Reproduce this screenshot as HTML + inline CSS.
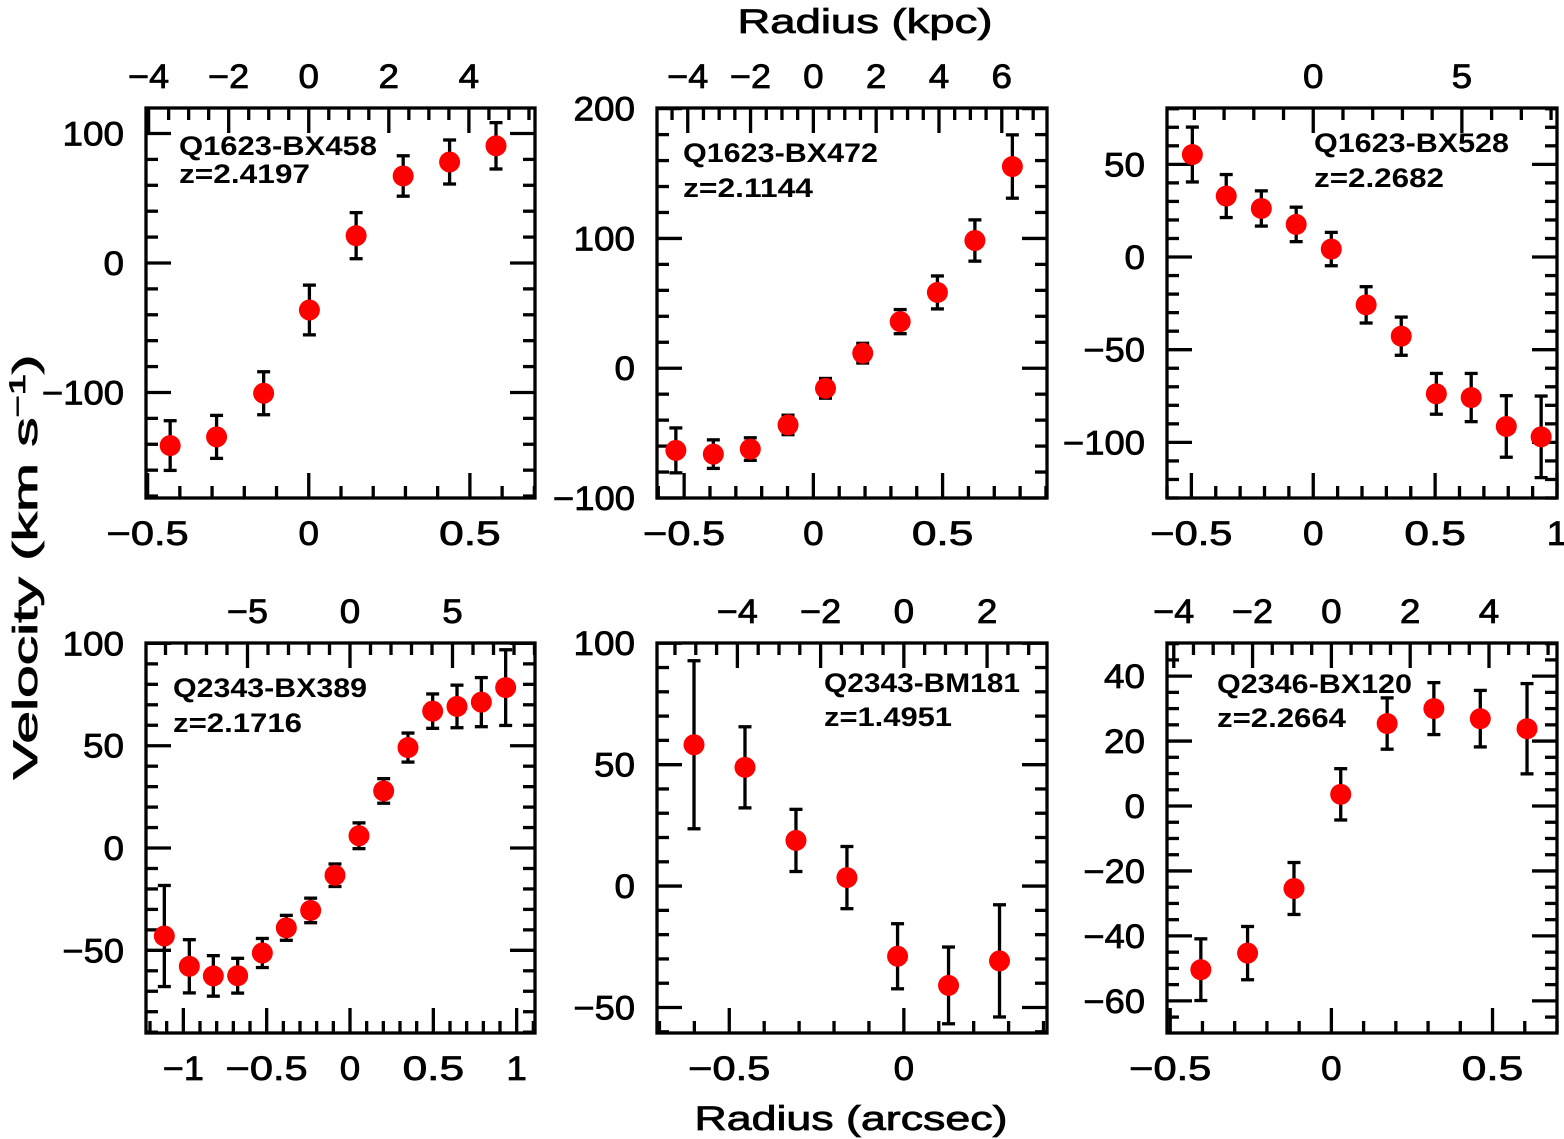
<!DOCTYPE html>
<html><head><meta charset="utf-8"><style>
html,body{margin:0;padding:0;background:#fff;}
svg{display:block;font-family:"Liberation Sans",sans-serif;}
</style></head><body>
<svg id="fig" width="1564" height="1139" viewBox="0 0 1564 1139" xmlns="http://www.w3.org/2000/svg"></svg>
<script>
// ---- data (radius in arcsec, velocity km/s, error km/s) ----
const bx458Radius=[-0.43,-0.286,-0.14,0.002,0.147,0.293,0.437,0.581];
const bx458Vel=[-141,-134.3,-100.6,-36.3,21.1,67.2,78,90.5];
const bx458Err=[19.2,16.6,16.6,19.2,17.8,15.6,17,17.9];
const bx472Radius=[-0.532,-0.387,-0.244,-0.098,0.047,0.191,0.336,0.480,0.625,0.770];
const bx472Vel=[-63.3,-66.2,-62.3,-43.7,-15.5,11.6,35.9,58.4,98.4,155.4];
const bx472Err=[17.3,11,8.7,7.5,7.6,7.6,9.3,12.7,15.9,24.4];
const bx528Radius=[-0.496,-0.357,-0.213,-0.070,0.074,0.217,0.361,0.505,0.648,0.792,0.935];
const bx528Vel=[55.3,32.9,26.2,17.6,4.3,-25.8,-42.7,-73.8,-75.8,-91.4,-97];
const bx528Err=[14.8,11.6,9.5,9.3,9,9.8,10.3,11,13,16.6,22];
const bx389Radius=[-1.114,-0.964,-0.82,-0.674,-0.526,-0.382,-0.236,-0.09,0.054,0.202,0.348,0.496,0.642,0.788,0.934];
const bx389Vel=[-43,-57.8,-62.5,-62.4,-51.3,-39,-30.5,-13.3,6,27.9,49.1,66.9,69.2,71.3,78.4];
const bx389Err=[24.7,13,9.9,8.5,7.1,6.1,6,5.5,6.3,6,7.1,8.4,10.4,12,18.5];
const bm181Radius=[-0.601,-0.455,-0.309,-0.163,-0.018,0.128,0.274];
const bm181Vel=[58.2,48.9,18.8,3.5,-28.9,-40.9,-30.8];
const bm181Err=[34.6,16.7,12.8,12.8,13.4,15.8,23.1];
const bx120Radius=[-0.405,-0.260,-0.116,0.029,0.173,0.318,0.462,0.607];
const bx120Vel=[-50.4,-45.3,-25.4,3.6,25.4,30,26.9,23.8];
const bx120Err=[9.5,8.2,8,7.9,7.9,8,8.7,13.9];

const NS="http://www.w3.org/2000/svg";
const svg=document.getElementById('fig');
function mk(tag,attrs,parent){const e=document.createElementNS(NS,tag);for(const k in attrs)e.setAttribute(k,attrs[k]);(parent||svg).appendChild(e);return e;}
function fmt(v){const a=Math.abs(v);let s=String(+a.toFixed(2));return (v<-1e-9?'\u2212':'')+s;}

const panels=[
 {id:'bx458',name:'Q1623-BX458',z:'z=2.4197',r:bx458Radius,v:bx458Vel,e:bx458Err,L:146,R:535,T:108,B:498,xlim:[-0.505,0.702],ylim:[-181.5,119.7],kpc:8.05,yMaj:100,yMin:20,kMaj:2,kMin:0.5,tx:179,ty:155,tw:198,zy:183,zw:131},
 {id:'bx472',name:'Q1623-BX472',z:'z=2.1144',r:bx472Radius,v:bx472Vel,e:bx472Err,L:657,R:1047,T:108,B:498,xlim:[-0.605,0.904],ylim:[-100,200.5],kpc:8.23,yMaj:100,yMin:20,kMaj:2,kMin:0.5,tx:683,ty:162,tw:195,zy:197,zw:130},
 {id:'bx528',name:'Q1623-BX528',z:'z=2.2682',r:bx528Radius,v:bx528Vel,e:bx528Err,L:1167,R:1557,T:108,B:498,xlim:[-0.6,1.0],ylim:[-130,80.4],kpc:8.2,yMaj:50,yMin:10,kMaj:5,kMin:1,tx:1314,ty:152,tw:195,zy:187,zw:130},
 {id:'bx389',name:'Q2343-BX389',z:'z=2.1716',r:bx389Radius,v:bx389Vel,e:bx389Err,L:146,R:535,T:643,B:1033,xlim:[-1.224,1.11],ylim:[-90.4,100.2],kpc:8.13,yMaj:50,yMin:10,kMaj:5,kMin:1,tx:173,ty:697,tw:194,zy:732,zw:129},
 {id:'bm181',name:'Q2343-BM181',z:'z=1.4951',r:bm181Radius,v:bm181Vel,e:bm181Err,L:657,R:1047,T:643,B:1033,xlim:[-0.707,0.41],ylim:[-60.5,100.1],kpc:8.39,yMaj:50,yMin:10,kMaj:2,kMin:0.5,tx:824,ty:692,tw:196,zy:726,zw:128},
 {id:'bx120',name:'Q2346-BX120',z:'z=2.2664',r:bx120Radius,v:bx120Vel,e:bx120Err,L:1167,R:1557,T:643,B:1033,xlim:[-0.51,0.70],ylim:[-69.9,50.2],kpc:8.18,yMaj:20,yMin:5,kMaj:2,kMin:0.5,tx:1217,ty:693,tw:195,zy:727,zw:129}
];

function ticks(lo,hi,step){const out=[];const a=Math.ceil(lo/step-1e-6),b=Math.floor(hi/step+1e-6);for(let k=a;k<=b;k++)out.push(k*step);return out;}
function isMaj(v,maj){return Math.abs(v/maj-Math.round(v/maj))<1e-6;}

panels.forEach(p=>{
 const g=mk('g',{});
 
 
 const xs=v=>p.L+(v-p.xlim[0])/(p.xlim[1]-p.xlim[0])*(p.R-p.L);
 const ys=v=>p.B-(v-p.ylim[0])/(p.ylim[1]-p.ylim[0])*(p.B-p.T);
 const xk=k=>xs(k/p.kpc);
 const tg=mk('g',{stroke:'#000','stroke-width':3.3,fill:'none'},g);
 
 
 ticks(p.xlim[0],p.xlim[1],0.1).forEach(v=>{const x=xs(v);const l=isMaj(v,0.5)?25:12;mk('line',{x1:x,y1:p.B,x2:x,y2:p.B-l},tg);
  if(isMaj(v,0.5)){const t=mk('text',{x:x,y:p.B+47,'text-anchor':'middle','font-size':34,fill:'#000',stroke:'#000','stroke-width':0.8,textLength:fmt(v).length*20.5,lengthAdjust:'spacingAndGlyphs'},g);t.textContent=fmt(v);
   
   }});
 ticks(p.xlim[0]*p.kpc,p.xlim[1]*p.kpc,p.kMin).forEach(k=>{const x=xk(k);const m=isMaj(k,p.kMaj);const l=m?25:12;mk('line',{x1:x,y1:p.T,x2:x,y2:p.T+l},tg);
  if(m){const t=mk('text',{x:x,y:p.T-20,'text-anchor':'middle','font-size':34,fill:'#000',stroke:'#000','stroke-width':0.8,textLength:fmt(k).length*20.5,lengthAdjust:'spacingAndGlyphs'},g);t.textContent=fmt(k);
   
   }});
 ticks(p.ylim[0],p.ylim[1],p.yMin).forEach(v=>{const y=ys(v);const m=isMaj(v,p.yMaj);const l=m?25:12;
  mk('line',{x1:p.L,y1:y,x2:p.L+l,y2:y},tg);mk('line',{x1:p.R,y1:y,x2:p.R-l,y2:y},tg);
  if(m){const t=mk('text',{x:p.L-22,y:y+12,'text-anchor':'end','font-size':34,fill:'#000',stroke:'#000','stroke-width':0.8,textLength:fmt(v).length*20.5,lengthAdjust:'spacingAndGlyphs'},g);t.textContent=fmt(v);
   
   }});
 const fr=mk('rect',{x:p.L,y:p.T,width:p.R-p.L,height:p.B-p.T,fill:'none',stroke:'#000','stroke-width':3.3},g);
 
 
 const n1=mk('text',{x:p.tx,y:p.ty,'font-size':27,'font-weight':'bold',fill:'#000',textLength:p.tw,lengthAdjust:'spacingAndGlyphs'},g);n1.textContent=p.name;
 
 
 const n2=mk('text',{x:p.tx,y:p.zy,'font-size':27,'font-weight':'bold',fill:'#000',textLength:p.zw,lengthAdjust:'spacingAndGlyphs'},g);n2.textContent=p.z;
 
 
 p.r.forEach((rv,i)=>{const x=xs(rv),y=ys(p.v[i]),y1=ys(p.v[i]+p.e[i]),y2=ys(p.v[i]-p.e[i]);
  const eg=mk('g',{stroke:'#000','stroke-width':3.3},g);
  
  
  mk('line',{x1:x,y1:y1,x2:x,y2:y2},eg);mk('line',{x1:x-6.5,y1:y1,x2:x+6.5,y2:y1},eg);mk('line',{x1:x-6.5,y1:y2,x2:x+6.5,y2:y2},eg);
  const c=mk('circle',{cx:x,cy:y,r:10.5,fill:'#ff0000'},g);
  
  
 });
});

const t1=mk('text',{x:865,y:33,'text-anchor':'middle','font-size':34,fill:'#000',stroke:'#000','stroke-width':0.8,textLength:255,lengthAdjust:'spacingAndGlyphs'});t1.textContent='Radius (kpc)';


const t2=mk('text',{x:851,y:1130,'text-anchor':'middle','font-size':34,fill:'#000',stroke:'#000','stroke-width':0.8,textLength:313,lengthAdjust:'spacingAndGlyphs'});t2.textContent='Radius (arcsec)';


const t3=mk('text',{x:0,y:0,'text-anchor':'middle','font-size':34,fill:'#000',stroke:'#000','stroke-width':0.8,transform:'translate(37,567) rotate(-90)',textLength:425,lengthAdjust:'spacingAndGlyphs'});


t3.appendChild(document.createTextNode('Velocity (km s'));
const sup=mk('tspan',{dy:-12,'font-size':22},t3);sup.textContent='\u22121';
const cl=mk('tspan',{dy:12},t3);cl.textContent=')';
</script>
</body></html>
